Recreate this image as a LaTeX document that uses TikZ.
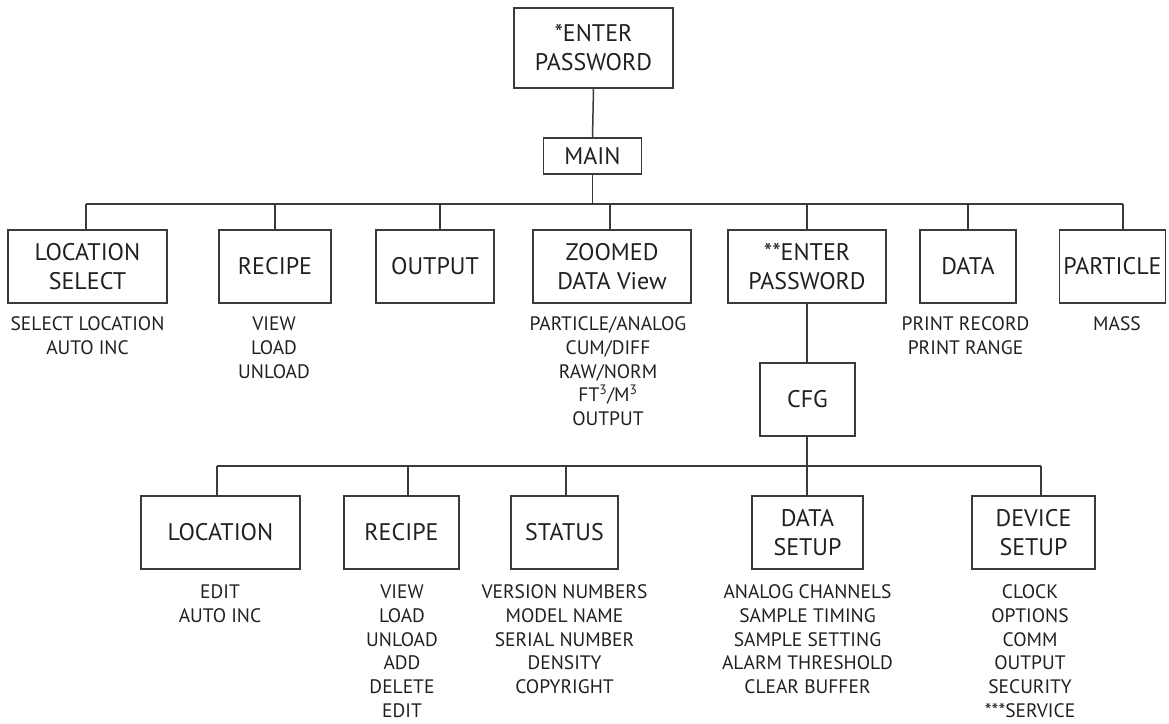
\documentclass[tikz,border=0pt]{standalone}
\usepackage{fontspec}
\setmainfont{PT Sans}
\definecolor{ln}{HTML}{3A3A3A}
\definecolor{tx}{HTML}{231F20}
\begin{document}
\begin{tikzpicture}[x=1pt,y=-1pt,
  box/.style={draw=ln, line width=1.5pt, inner sep=0pt, align=center, text=tx,
    font=\fontsize{24}{29}\selectfont, minimum height=73pt},
  lst/.style={anchor=base, inner sep=0pt, align=center, text=tx,
    font=\fontsize{19.5}{23.8}\selectfont},
  con/.style={draw=ln, line width=1.5pt}]
\useasboundingbox (0,0) rectangle (1169,723);
% top level
\node[box, minimum width=159pt, minimum height=80pt] (pw) at (593.5,48) {*ENTER\\PASSWORD};
\node[box, minimum width=98pt, minimum height=36pt] (main) at (592.5,156) {MAIN};
% level 1
\node[box, minimum width=159pt] (ls) at (87.5,266.5) {LOCATION\\SELECT};
\node[box, minimum width=112pt] (rec) at (275,266.5) {RECIPE};
\node[box, minimum width=118pt] (out) at (435,266.5) {OUTPUT};
\node[box, minimum width=158pt] (zm) at (612,266.5) {ZOOMED\\DATA View};
\node[box, minimum width=158pt] (pw2) at (807,266.5) {**ENTER\\PASSWORD};
\node[box, minimum width=96pt] (data) at (968,266.5) {DATA};
\node[box, minimum width=106pt] (part) at (1112.5,266.5) {PARTICLE};
\node[box, minimum width=95pt] (cfg) at (807.5,399.5) {CFG};
% level 2
\node[box, minimum width=159pt] (loc) at (220.5,532.5) {LOCATION};
\node[box, minimum width=115pt] (rec2) at (401.5,532.5) {RECIPE};
\node[box, minimum width=107pt] (stat) at (564.5,532.5) {STATUS};
\node[box, minimum width=111pt] (dset) at (807.5,532.5) {DATA\\SETUP};
\node[box, minimum width=123pt] (dev) at (1033.5,532.5) {DEVICE\\SETUP};
% lists (anchor base = baseline of the last line)
\node[lst] (lls) at (87.5,354.3) {SELECT LOCATION\\AUTO INC};
\node[lst] (lrec) at (274,378.1) {VIEW\\LOAD\\UNLOAD};
\node[lst] (lzm) at (608,425.7) {PARTICLE/ANALOG\\CUM/DIFF\\RAW/NORM\\FT\textsuperscript{3}/M\textsuperscript{3}\\OUTPUT};
\node[lst] (ldata) at (965.5,354.3) {PRINT RECORD\\PRINT RANGE};
\node[lst] (lpart) at (1117,330.5) {MASS};
\node[lst] (lloc) at (220,622.3) {EDIT\\AUTO INC};
\node[lst] (lrec2) at (402,717.5) {VIEW\\LOAD\\UNLOAD\\ADD\\DELETE\\EDIT};
\node[lst] (lstat) at (564.5,693.7) {VERSION NUMBERS\\MODEL NAME\\SERIAL NUMBER\\DENSITY\\COPYRIGHT};
\node[lst] (ldset) at (807.5,693.7) {ANALOG CHANNELS\\SAMPLE TIMING\\SAMPLE SETTING\\ALARM THRESHOLD\\CLEAR BUFFER};
\node[lst] (ldev) at (1030,717.5) {CLOCK\\OPTIONS\\COMM\\OUTPUT\\SECURITY\\***SERVICE};
% buses
\coordinate (busA) at (0,204);
\coordinate (busB) at (0,466);
% connectors
\draw[con] (pw.south) -- (main.north);
\draw[con] (main.south) -- (main.south |- busA);
\draw[con] ([xshift=-1.5pt]ls.north |- busA) -- ([xshift=10.5pt]part.north |- busA);
\draw[con] ([xshift=-1.5pt]ls.north) -- ([xshift=-1.5pt]ls.north |- busA);
\draw[con] (rec.north) -- (rec.north |- busA);
\draw[con] ([xshift=5pt]out.north) -- ([xshift=5pt]out.north |- busA);
\draw[con] ([xshift=-2pt]zm.north) -- ([xshift=-2pt]zm.north |- busA);
\draw[con] (pw2.north) -- (pw2.north |- busA);
\draw[con] (data.north) -- (data.north |- busA);
\draw[con] ([xshift=10.5pt]part.north) -- ([xshift=10.5pt]part.north |- busA);
\draw[con] (pw2.south) -- ([xshift=-0.5pt]cfg.north);
\draw[con] ([xshift=-0.5pt]cfg.south) -- ([xshift=-0.5pt]cfg.south |- busB);
\draw[con] ([xshift=-3.5pt]loc.north |- busB) -- ([xshift=7.5pt]dev.north |- busB);
\draw[con] ([xshift=-3.5pt]loc.north) -- ([xshift=-3.5pt]loc.north |- busB);
\draw[con] ([xshift=6.5pt]rec2.north) -- ([xshift=6.5pt]rec2.north |- busB);
\draw[con] ([xshift=1.5pt]stat.north) -- ([xshift=1.5pt]stat.north |- busB);
\draw[con] ([xshift=-0.5pt]dset.north) -- ([xshift=-0.5pt]dset.north |- busB);
\draw[con] ([xshift=7.5pt]dev.north) -- ([xshift=7.5pt]dev.north |- busB);
\end{tikzpicture}
\end{document}
